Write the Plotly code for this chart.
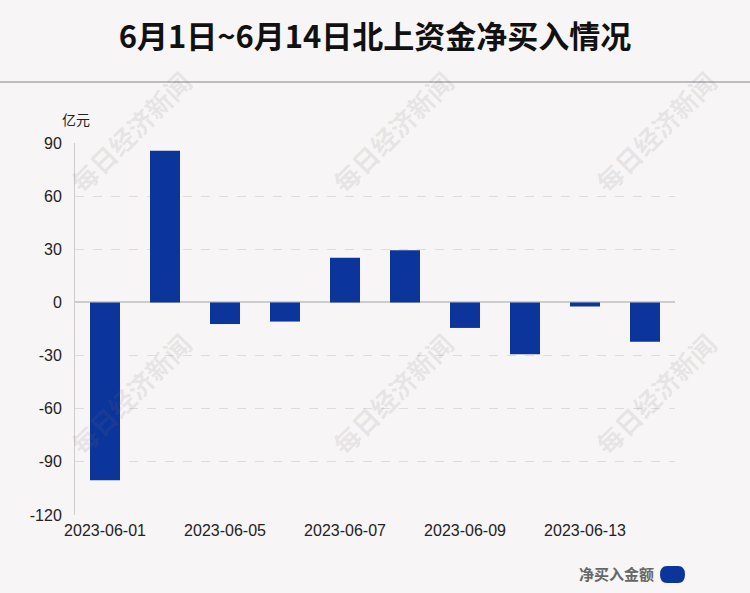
import plotly.graph_objects as go

dates = ["2023-06-01", "2023-06-02", "2023-06-05", "2023-06-06", "2023-06-07",
         "2023-06-08", "2023-06-09", "2023-06-12", "2023-06-13", "2023-06-14"]
values = [-100.4, 85.6, -12.2, -10.8, 25.2, 29.5, -14.4, -29.3, -2.3, -22.2]
shown_ticks = ["2023-06-01", "2023-06-05", "2023-06-07", "2023-06-09", "2023-06-13"]
y_ticks = [-120, -90, -60, -30, 0, 30, 60, 90]
y_tick_labels = ["-120", "-90", "-60", "-30", "0", "30", "60", "90"]

title_text = "6月1日~6月14日北上资金净买入情况"
unit_text = "亿元"
legend_text = "净买入金额"
watermark = "每日经济新闻"

bar_color = "#0c359c"
bg = "#f8f5f6"

fig = go.Figure()
fig.add_trace(go.Bar(x=dates, y=values, marker=dict(color=bar_color, line=dict(width=0)),
                     name=legend_text, showlegend=False))

fig.update_layout(
    width=750, height=593,
    paper_bgcolor=bg, plot_bgcolor=bg,
    margin=dict(l=75, r=75, t=143, b=78),
    bargap=0.5,
    font=dict(family="Liberation Sans, Arial, sans-serif", size=16, color="#222"),
    title=dict(text="<b>" + title_text + "</b>", x=0.5, xanchor="center", y=1 - 37 / 593,
               yanchor="middle",
               font=dict(family="Noto Sans CJK SC", size=31, color="#111")),
    xaxis=dict(type="category", tickmode="array", tickvals=shown_ticks, ticktext=shown_ticks,
               showgrid=False, showline=False, ticks="", ticklabelstandoff=4,
               tickfont=dict(size=16, color="#222")),
    yaxis=dict(range=[-120, 90], tickmode="array", tickvals=y_ticks, ticktext=y_tick_labels,
               showgrid=True, gridcolor="#dedbdc",
               griddash="dash", gridwidth=1, zeroline=True, zerolinecolor="#cccccc",
               zerolinewidth=2, showline=True, linecolor="#cccccc", linewidth=1,
               ticks="", ticklabelstandoff=9, tickfont=dict(size=16, color="#222")),
)

shapes = [
    dict(type="line", xref="paper", yref="paper", x0=-0.13, x1=1.13,
         y0=1 + (143 - 82) / 372, y1=1 + (143 - 82) / 372,
         line=dict(color="#bdbdbd", width=2)),
    dict(type="path", xref="paper", yref="paper",
         path="M {a},{b} L {c},{b} Q {d},{b} {d},{m} Q {d},{e} {c},{e} L {a},{e} Q {f},{e} {f},{m} Q {f},{b} {a},{b} Z".format(
             a=(667 - 75) / 600, c=(678 - 75) / 600, d=(685 - 75) / 600, f=(660 - 75) / 600,
             b=-(566 - 515) / 372, e=-(583 - 515) / 372, m=-(574.5 - 515) / 372),
         fillcolor=bar_color, line=dict(width=0)),
]

annotations = [
    dict(text=unit_text, xref="paper", yref="paper", x=-15 / 600, y=1 + (143 - 119) / 372,
         xanchor="left", yanchor="middle", showarrow=False,
         font=dict(family="Noto Sans CJK SC", size=14, color="#222")),
    dict(text="<b>" + legend_text + "</b>", xref="paper", yref="paper",
         x=(656 - 75) / 600, y=-(573 - 515) / 372, xanchor="right", yanchor="middle",
         showarrow=False, font=dict(family="Noto Sans CJK SC", size=15, color="#666")),
]

for cx in [130, 392, 655]:
    for cy in [131, 393]:
        annotations.append(dict(
            text="<b>" + watermark + "</b>", xref="paper", yref="paper",
            x=(cx - 75) / 600, y=1 - (cy - 143) / 372, xanchor="center", yanchor="middle",
            showarrow=False, textangle=-45,
            font=dict(family="Noto Sans CJK SC", size=26,
                      color="rgba(110,110,110,0.13)")))

fig.update_layout(shapes=shapes, annotations=annotations)
fig.write_html("out.html", config={"displayModeBar": False},
               post_script="document.body.style.margin='0';document.body.style.overflow='hidden';")
